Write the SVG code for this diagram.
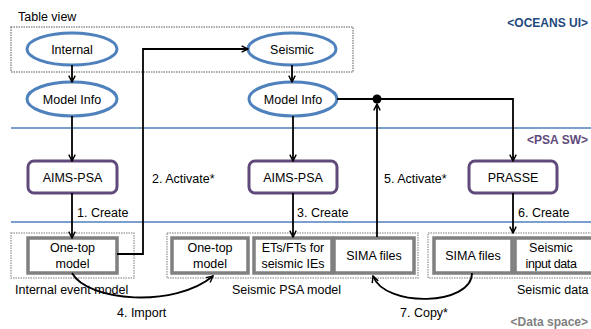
<svg xmlns="http://www.w3.org/2000/svg" width="591" height="329" viewBox="0 0 591 329">
<style>
text{font-family:"Liberation Sans",Arial,sans-serif;font-size:12.5px;fill:#000}
.lbl{text-anchor:middle}
.tag{font-weight:bold;font-size:12px;text-anchor:end}
.ell{fill:#fff;stroke:#4F81BD;stroke-width:3}
.sw{fill:#fff;stroke:#604A7B;stroke-width:3}
.data{fill:#fff;stroke:#808080;stroke-width:3.5}
.grp{fill:#fff;stroke:#A6A6A6;stroke-width:1.5;stroke-dasharray:1.5 1}
.sep{stroke:#4F81BD;stroke-width:1.5}
.con{fill:none;stroke:#000;stroke-width:1.8}
</style>
<defs>
<marker id="ah" viewBox="0 0 10 10" refX="9" refY="5" markerWidth="8" markerHeight="8" markerUnits="userSpaceOnUse" orient="auto">
<path d="M1,1 L9,5 L1,9" fill="none" stroke="#000" stroke-width="1.8"/>
</marker>
</defs>
<rect width="591" height="329" fill="#fff"/>

<g id="layers">
<line class="sep" x1="11" y1="128" x2="591" y2="128"/>
<line class="sep" x1="11" y1="222" x2="591" y2="222"/>
<text class="tag" x="588" y="27" style="fill:#1F497D">&lt;OCEANS UI&gt;</text>
<text class="tag" x="588" y="144" style="fill:#604A7B">&lt;PSA SW&gt;</text>
<text class="tag" x="588" y="326" style="fill:#7F7F7F">&lt;Data space&gt;</text>
</g>

<g id="table-view">
<text x="18" y="21">Table view</text>
<rect class="grp" x="11" y="27" width="342" height="45" style="fill:none;stroke:#909090"/>
</g>

<g id="internal"><ellipse class="ell" cx="72" cy="49" rx="45" ry="16"/><text class="lbl" x="72" y="54">Internal</text></g>
<g id="model-info-1"><ellipse class="ell" cx="72" cy="99" rx="45" ry="17"/><text class="lbl" x="72" y="104">Model Info</text></g>
<g id="seismic"><ellipse class="ell" cx="292" cy="49" rx="44" ry="16"/><text class="lbl" x="292" y="54">Seismic</text></g>
<g id="model-info-2"><ellipse class="ell" cx="293" cy="99" rx="44" ry="17"/><text class="lbl" x="293" y="104">Model Info</text></g>

<g id="aims-psa-1"><rect class="sw" x="28" y="161" width="89" height="32" rx="6"/><text class="lbl" x="72.5" y="182">AIMS-PSA</text></g>
<g id="aims-psa-2"><rect class="sw" x="249" y="161" width="88" height="32" rx="6"/><text class="lbl" x="293" y="182">AIMS-PSA</text></g>
<g id="prasse"><rect class="sw" x="469" y="161" width="88" height="32" rx="6"/><text class="lbl" x="513" y="182">PRASSE</text></g>

<g id="internal-event-model">
<rect class="grp" x="11" y="233" width="123" height="45"/>
<text x="15" y="294">Internal event model</text>
</g>
<g id="one-top-1"><rect class="data" x="28" y="238" width="89" height="35"/><text class="lbl" x="72.5" y="252">One-top</text><text class="lbl" x="72.5" y="268">model</text></g>

<g id="seismic-psa-model">
<rect class="grp" x="167" y="233" width="251" height="45"/>
<text x="232" y="294">Seismic PSA model</text>
</g>
<g id="one-top-2"><rect class="data" x="172" y="238" width="76" height="35"/><text class="lbl" x="210" y="252">One-top</text><text class="lbl" x="210" y="268">model</text></g>
<g id="ets-fts"><rect class="data" x="254" y="238" width="78" height="35"/><text class="lbl" x="293" y="252">ETs/FTs  for</text><text class="lbl" x="293" y="268">seismic IEs</text></g>
<g id="sima-1"><rect class="data" x="334" y="238" width="80" height="35"/><text class="lbl" x="374" y="260">SIMA files</text></g>

<g id="seismic-data">
<rect class="grp" x="428" y="233" width="170" height="45"/>
<text x="517" y="294">Seismic data</text>
</g>
<g id="sima-2"><rect class="data" x="434" y="238" width="78" height="35"/><text class="lbl" x="473" y="260">SIMA files</text></g>
<g id="seismic-input"><rect class="data" x="515" y="238" width="80" height="35"/><text class="lbl" x="551" y="252">Seismic</text><text class="lbl" x="551" y="268" style="letter-spacing:-0.4px">input data</text></g>

<g id="connectors">
<path class="con" d="M72,65 V82" marker-end="url(#ah)"/>
<path class="con" d="M72,116 V161" marker-end="url(#ah)"/>
<path class="con" d="M72,193 V238" marker-end="url(#ah)"/>
<path class="con" d="M117,254 H143 V49 H248" marker-end="url(#ah)"/>
<path class="con" d="M292,65 V82" marker-end="url(#ah)"/>
<path class="con" d="M293,116 V161" marker-end="url(#ah)"/>
<path class="con" d="M293,193 V237" marker-end="url(#ah)"/>
<path class="con" d="M377,237 V104" marker-end="url(#ah)"/>
<path class="con" d="M337,99 H513 V161" marker-end="url(#ah)"/>
<circle cx="377" cy="99" r="4.5" fill="#000"/>
<path class="con" d="M513,193 V233" marker-end="url(#ah)"/>
<path class="con" d="M72,273 C88,302 175,308 213,276" marker-end="url(#ah)"/>
<path class="con" d="M472,273 C472,306 385,308 373,276" marker-end="url(#ah)"/>
<text x="152" y="183">2. Activate*</text>
<text x="77" y="217">1. Create</text>
<text x="297" y="217">3. Create</text>
<text x="384" y="183">5. Activate*</text>
<text x="518" y="217">6. Create</text>
<text x="117" y="317">4. Import</text>
<text x="400" y="317">7. Copy*</text>
</g>
</svg>
